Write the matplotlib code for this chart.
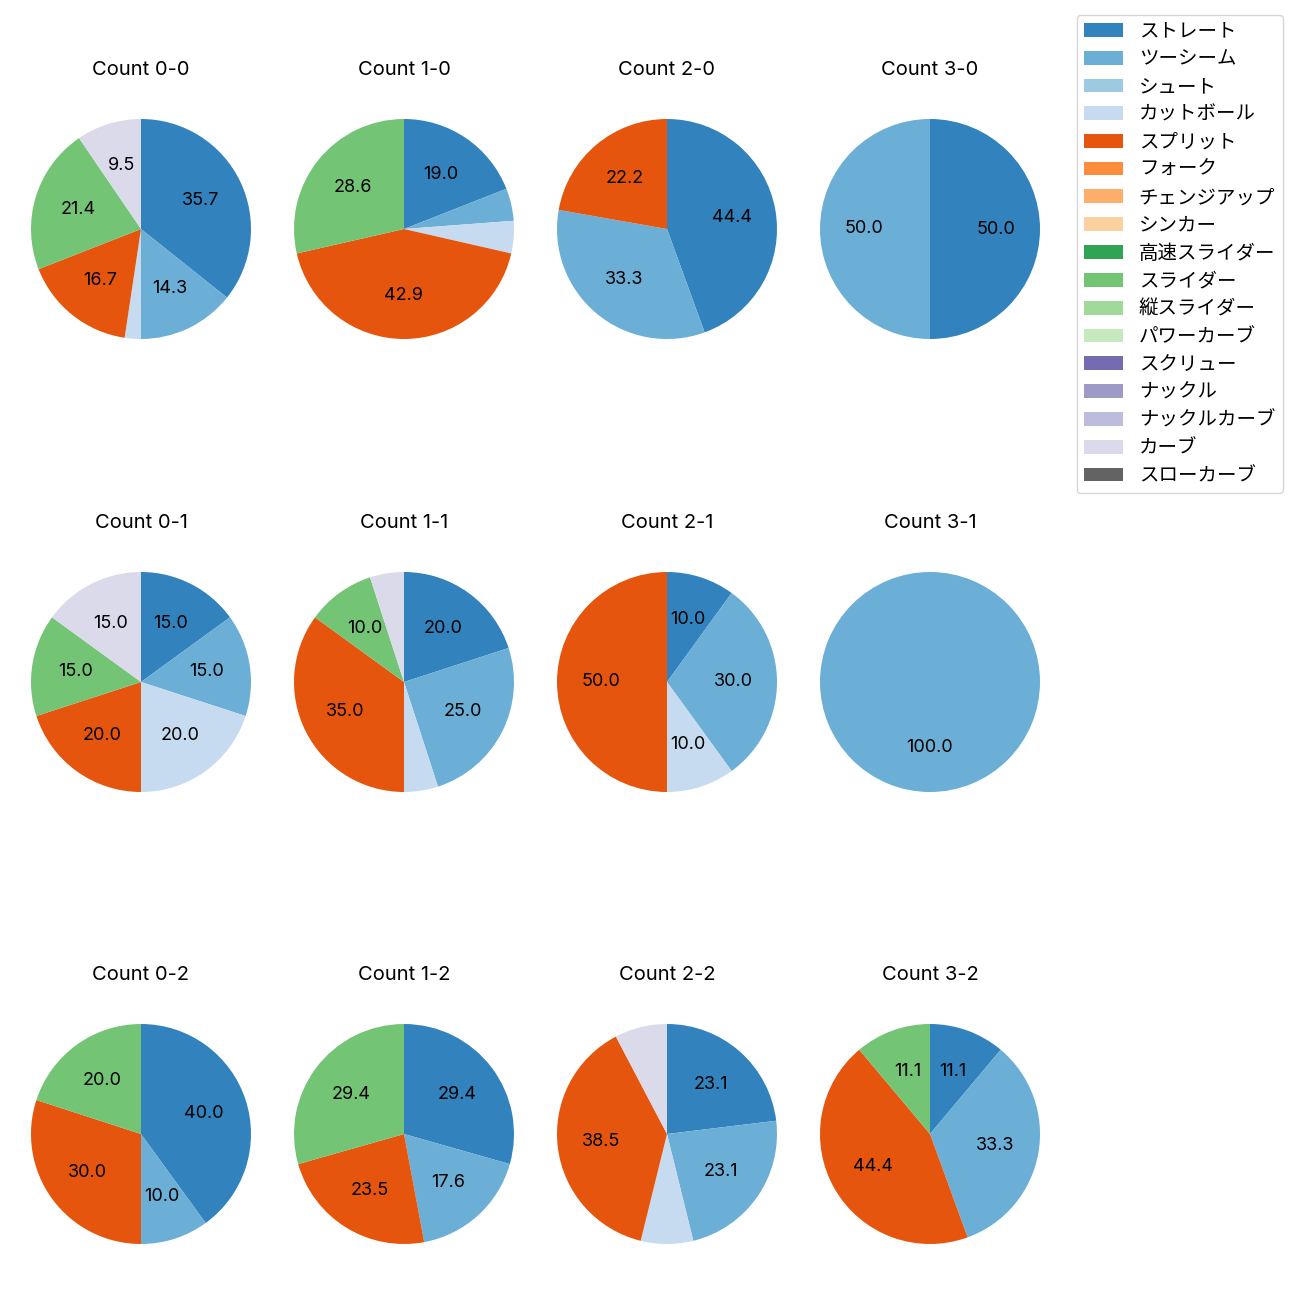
import matplotlib
matplotlib.use('Agg')
import matplotlib.pyplot as plt
from matplotlib.patches import Patch

plt.rcParams['font.family'] = ['Inter', 'Noto Sans CJK JP', 'DejaVu Sans']
plt.rcParams['font.size'] = 14

# --------------------------- Data ---------------------------
pitch_types = ['ストレート', 'ツーシーム', 'シュート', 'カットボール', 'スプリット', 'フォーク',
               'チェンジアップ', 'シンカー', '高速スライダー', 'スライダー', '縦スライダー',
               'パワーカーブ', 'スクリュー', 'ナックル', 'ナックルカーブ', 'カーブ', 'スローカーブ']

balls = [0, 1, 2, 3]
strikes = [0, 1, 2]

# pitch counts per ball-strike count (pitch name -> number thrown)
count_0_0 = {'ストレート': 15, 'ツーシーム': 6, 'カットボール': 1, 'スプリット': 7, 'スライダー': 9, 'カーブ': 4}
count_1_0 = {'ストレート': 4, 'ツーシーム': 1, 'カットボール': 1, 'スプリット': 9, 'スライダー': 6}
count_2_0 = {'ストレート': 4, 'ツーシーム': 3, 'スプリット': 2}
count_3_0 = {'ストレート': 1, 'ツーシーム': 1}
count_0_1 = {'ストレート': 3, 'ツーシーム': 3, 'カットボール': 4, 'スプリット': 4, 'スライダー': 3, 'カーブ': 3}
count_1_1 = {'ストレート': 4, 'ツーシーム': 5, 'カットボール': 1, 'スプリット': 7, 'スライダー': 2, 'カーブ': 1}
count_2_1 = {'ストレート': 1, 'ツーシーム': 3, 'カットボール': 1, 'スプリット': 5}
count_3_1 = {'ツーシーム': 1}
count_0_2 = {'ストレート': 4, 'ツーシーム': 1, 'スプリット': 3, 'スライダー': 2}
count_1_2 = {'ストレート': 5, 'ツーシーム': 3, 'スプリット': 4, 'スライダー': 5}
count_2_2 = {'ストレート': 3, 'ツーシーム': 3, 'カットボール': 1, 'スプリット': 5, 'カーブ': 1}
count_3_2 = {'ストレート': 1, 'ツーシーム': 3, 'スプリット': 4, 'スライダー': 1}

counts = {
    (0, 0): count_0_0, (1, 0): count_1_0, (2, 0): count_2_0, (3, 0): count_3_0,
    (0, 1): count_0_1, (1, 1): count_1_1, (2, 1): count_2_1, (3, 1): count_3_1,
    (0, 2): count_0_2, (1, 2): count_1_2, (2, 2): count_2_2, (3, 2): count_3_2,
}

cmap = plt.get_cmap('tab20c')
colors = {p: cmap(i) for i, p in enumerate(pitch_types)}

# --------------------------- Plot ---------------------------
W = H = 1300
fig = plt.figure(figsize=(13, 13), dpi=100)

col_cx = [141, 404, 667, 930]
row_cy = [229, 682, 1134]
size = 2.5 * 110  # axes box in px (pie limits are +-1.25)


def autopct(p):
    return f'{p:.1f}' if p >= 8 else ''


for s in strikes:
    for b in balls:
        cx, cy = col_cx[b], row_cy[s]
        ax = fig.add_axes([(cx - size / 2) / W, 1 - (cy + size / 2) / H, size / W, size / H])
        data = counts[(b, s)]
        names = [p for p in pitch_types if p in data]
        vals = [data[p] for p in names]
        ax.pie(vals, colors=[colors[p] for p in names], startangle=90, counterclock=False,
               autopct=autopct, textprops={'fontsize': 13})
        ax.set_title(f'Count {b}-{s}', fontsize=14.5, pad=12)

handles = [Patch(facecolor=colors[p], label=p) for p in pitch_types]
fig.legend(handles=handles, loc='upper right', bbox_to_anchor=(1283 / W, 1 - 15 / H),
           borderaxespad=0, fontsize=14, labelspacing=0.5)

fig.savefig('out.png', dpi=100)
